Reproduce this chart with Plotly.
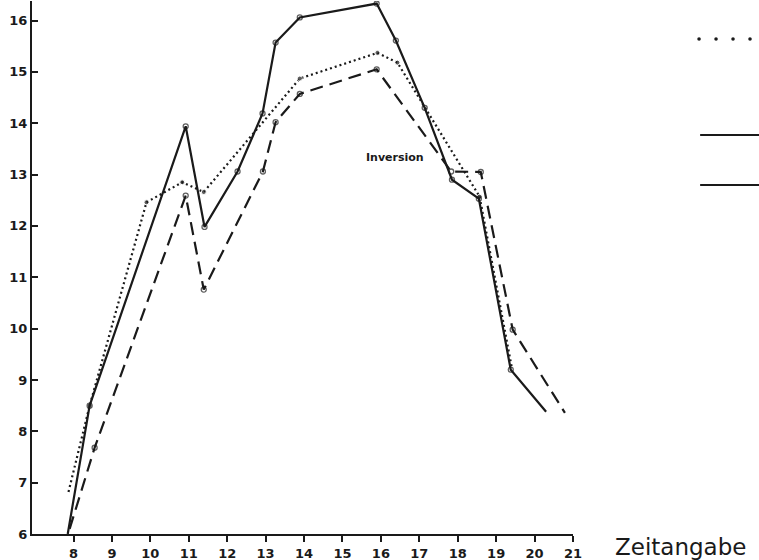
import plotly.graph_objects as go

# ---- data ----
solid_x = [7.85, 8.42, 10.92, 11.41, 12.27, 12.92, 13.26, 13.89, 15.89, 16.39, 17.14, 17.85, 18.55, 19.38, 20.3]
solid_y = [6.0, 8.5, 13.94, 11.98, 13.06, 14.19, 15.57, 16.06, 16.33, 15.61, 14.3, 12.9, 12.53, 9.2, 8.38]

dotted_x = [7.87, 8.42, 9.9, 10.83, 11.39, 13.89, 15.91, 16.43, 18.57, 19.4]
dotted_y = [6.82, 8.5, 12.46, 12.85, 12.66, 14.87, 15.37, 15.18, 12.57, 9.27]

dashed_x = [7.9, 8.55, 10.92, 11.39, 12.93, 13.26, 13.89, 15.89, 17.83, 18.6, 19.43, 20.79]
dashed_y = [6.1, 7.68, 12.59, 10.76, 13.06, 14.02, 14.57, 15.05, 13.06, 13.05, 9.98, 8.36]

x_ticks = list(range(8, 22))
y_ticks = list(range(6, 17))

ink = "#1a1a1a"


def end_sizes(n, s):
    return [0] + [s] * (n - 2) + [0]


fig = go.Figure()

fig.add_trace(go.Scatter(
    x=dotted_x, y=dotted_y, mode="lines+markers",
    line=dict(color=ink, width=2.2, dash="2px,3px"),
    marker=dict(symbol="circle", size=end_sizes(len(dotted_x), 5), color=ink),
    showlegend=False, hoverinfo="skip"))

fig.add_trace(go.Scatter(
    x=dashed_x, y=dashed_y, mode="lines+markers",
    line=dict(color=ink, width=2.2, dash="13px,7px"),
    marker=dict(symbol="circle-open", size=end_sizes(len(dashed_x), 5),
                color=ink, line=dict(width=1.3)),
    showlegend=False, hoverinfo="skip"))

fig.add_trace(go.Scatter(
    x=solid_x, y=solid_y, mode="lines+markers",
    line=dict(color=ink, width=2.2),
    marker=dict(symbol="circle-open", size=end_sizes(len(solid_x), 5),
                color=ink, line=dict(width=1.3)),
    showlegend=False, hoverinfo="skip"))

tick_font = dict(family="DejaVu Sans", size=13, color=ink, weight="bold")

fig.update_layout(
    width=759, height=560,
    margin=dict(l=32, r=186, t=1, b=26),
    paper_bgcolor="white", plot_bgcolor="white",
    xaxis=dict(range=[6.92, 21], tickvals=x_ticks, ticktext=[str(v) for v in x_ticks],
               showgrid=False, zeroline=False, showline=True, linecolor=ink, linewidth=2,
               ticks="outside", ticklen=6, tickwidth=1.5, tickcolor=ink,
               tickfont=tick_font, automargin=False),
    yaxis=dict(range=[6, 16.38], tickvals=y_ticks, ticktext=[str(v) for v in y_ticks],
               showgrid=False, zeroline=False, showline=True, linecolor=ink, linewidth=2,
               ticks="inside", ticklen=6, tickwidth=1.5, tickcolor=ink,
               tickfont=tick_font, automargin=False),
)

fig.add_annotation(text="Inversion", x=16.36, y=13.33, xref="x", yref="y",
                   showarrow=False, font=dict(family="DejaVu Sans", size=11, color=ink, weight="bold"))

fig.add_annotation(text="Zeitangabe", x=21, y=0, xref="x", yref="paper",
                   xanchor="left", yanchor="middle", xshift=40, yshift=-13,
                   showarrow=False, font=dict(family="DejaVu Sans", size=23, color=ink))

# legend samples (labels cut off in the reference)
for k in range(4):
    cx = 1.2958 + k * 0.0314 - 0.0314 * 2  # four dots, ~17 px apart
    fig.add_shape(type="circle", xref="paper", yref="paper",
                  x0=cx - 0.0033, x1=cx + 0.0033, y0=0.9287 - 0.0034, y1=0.9287 + 0.0034,
                  fillcolor=ink, line=dict(color=ink, width=0))
fig.add_shape(type="line", xref="paper", yref="paper", x0=1.235, x1=1.35, y0=0.7486, y1=0.7486,
              line=dict(color=ink, width=2))
fig.add_shape(type="line", xref="paper", yref="paper", x0=1.235, x1=1.35, y0=0.6548, y1=0.6548,
              line=dict(color=ink, width=2))

fig.write_html("out.html")
